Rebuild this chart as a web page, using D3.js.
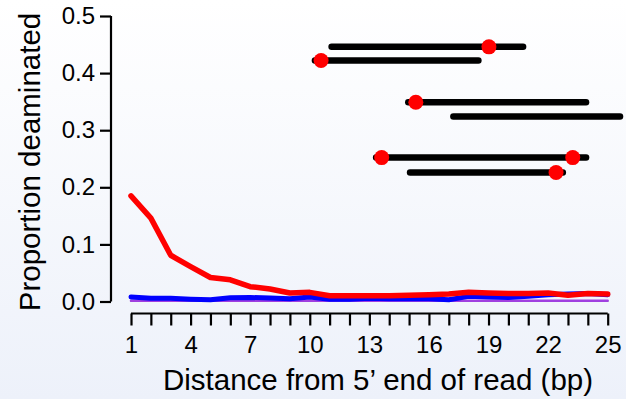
<!DOCTYPE html>
<html>
<head>
<meta charset="utf-8">
<script src="https://cdn.jsdelivr.net/npm/d3@7"></script>
<style>
  html, body { margin: 0; padding: 0; }
  svg { display: block; font-family: "Liberation Sans", Arial, Helvetica, sans-serif; }
</style>
</head>
<body>
<svg id="chart" width="626" height="399"></svg>
<script>
// positions along the read (bp)
const positions = d3.range(1, 26);
const xTickLabels = [1, 4, 7, 10, 13, 16, 19, 22, 25];
const yTickLabels = [0, 0.1, 0.2, 0.3, 0.4, 0.5];

// proportion deaminated per position
const redValues = [0.185, 0.146, 0.081, 0.061, 0.042, 0.038, 0.026, 0.022, 0.015, 0.016,
    0.010, 0.010, 0.010, 0.010, 0.011, 0.012, 0.013, 0.016, 0.015, 0.014,
    0.014, 0.015, 0.011, 0.014, 0.013];
const blueValues = [0.008, 0.0055, 0.0055, 0.004, 0.003, 0.0065, 0.007, 0.006, 0.005, 0.008,
    0.004, 0.004, 0.0055, 0.005, 0.005, 0.005, 0.003, 0.009, 0.008, 0.007,
    0.009, 0.012, 0.013, 0.014, 0.012];
const purpleValues = positions.map(() => 0.0015);
const greenValues = positions.map(() => 0);

// illustrated reads: start/end in bp, height in proportion units, red dots at bp
const readStart = [11.1, 10.26, 14.96, 17.23, 13.34, 15.05];
const readEnd = [20.74, 18.49, 23.91, 25.62, 23.91, 22.74];
const readLevel = [0.446, 0.422, 0.349, 0.324, 0.252, 0.226];
const readDots = [[19.02], [10.57], [15.34], [], [13.62, 23.24], [22.4]];

const svg = d3.select('#chart');
const W = 626, H = 399;

// background gradient
const grad = svg.append('defs').append('linearGradient')
    .attr('id', 'bg').attr('x1', 0).attr('y1', 0).attr('x2', 0).attr('y2', 1);
grad.append('stop').attr('offset', '0%').attr('stop-color', '#ffffff');
grad.append('stop').attr('offset', '100%').attr('stop-color', '#edf1fa');
svg.append('rect').attr('width', W).attr('height', H).attr('fill', 'url(#bg)');

var x = d3.scaleLinear().domain([1, 25]).range([131, 607.7]);
var y = d3.scaleLinear().domain([0, 0.5]).range([301.5, 16]);

// Y axis
const yAxis = svg.append('g')
    .attr('transform', 'translate(111,0)')
    .call(d3.axisLeft(y).tickValues(yTickLabels).tickFormat(d3.format('.1f')).tickSize(11).tickPadding(5));
yAxis.select('.domain').attr('d', `M0,${y(0)}V${y(0.5)}`).attr('stroke-width', 2.2);
yAxis.selectAll('.tick line').attr('stroke-width', 2.2);
yAxis.selectAll('.tick text').attr('font-size', 24).attr('fill', '#000')
    .attr('font-family', '"Liberation Sans", Arial, sans-serif');

// X axis
const xAxis = svg.append('g')
    .attr('transform', 'translate(0,313.5)')
    .call(d3.axisBottom(x).tickValues(positions).tickSize(12).tickPadding(10)
        .tickFormat(d => xTickLabels.includes(d) ? d : ''));
xAxis.select('.domain').attr('d', `M${x(1)},0H${x(25)}`).attr('stroke-width', 2.2);
xAxis.selectAll('.tick line').attr('stroke-width', 2.2);
xAxis.selectAll('.tick text').attr('font-size', 24).attr('fill', '#000')
    .attr('font-family', '"Liberation Sans", Arial, sans-serif');

// axis titles
svg.append('text')
    .attr('x', 378).attr('y', 390)
    .attr('text-anchor', 'middle')
    .attr('font-size', 29.5)
    .text('Distance from 5\u2019 end of read (bp)');
svg.append('text')
    .attr('transform', 'translate(40,162) rotate(-90)')
    .attr('text-anchor', 'middle')
    .attr('font-size', 29.5)
    .text('Proportion deaminated');

// series lines
var Gen = d3.line()
    .x((d, i) => x(positions[i]))
    .y(d => y(d));

const series = [
    { values: greenValues, color: '#22bb22', width: 1.2 },
    { values: purpleValues, color: '#a040e0', width: 2.5 },
    { values: blueValues, color: '#0000ff', width: 5 },
    { values: redValues, color: '#ff0000', width: 5.5 },
];
series.forEach(s => {
    svg.append('path').datum(s.values)
        .attr('fill', 'none')
        .attr('stroke', s.color)
        .attr('stroke-width', s.width)
        .attr('stroke-linejoin', 'round')
        .attr('stroke-linecap', 'round')
        .attr('d', Gen);
});

// reads
readStart.forEach((s, i) => {
    svg.append('line')
        .attr('x1', x(s)).attr('x2', x(readEnd[i]))
        .attr('y1', y(readLevel[i])).attr('y2', y(readLevel[i]))
        .attr('stroke', '#000').attr('stroke-width', 6.5)
        .attr('stroke-linecap', 'round');
});
readDots.forEach((dots, i) => {
    dots.forEach(p => {
        svg.append('circle')
            .attr('cx', x(p)).attr('cy', y(readLevel[i]))
            .attr('r', 7.5).attr('fill', '#ff0000');
    });
});
</script>
</body>
</html>
